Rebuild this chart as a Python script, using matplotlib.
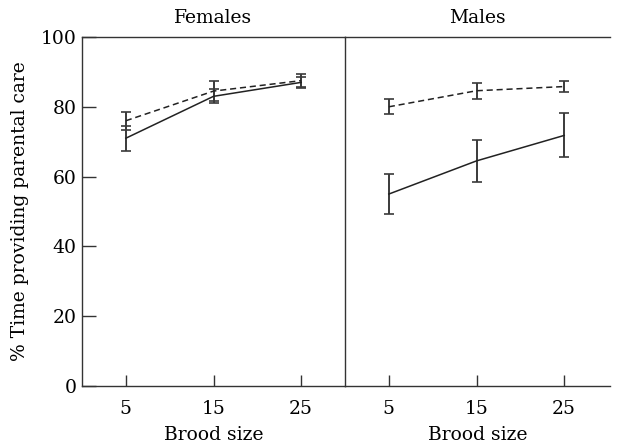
import matplotlib
matplotlib.use("Agg")
import matplotlib.pyplot as plt

brood = [5, 15, 25]
fem_solid = [71.0, 83.0, 87.0]
fem_solid_err = [3.6, 2.0, 1.5]
fem_dash = [76.0, 84.5, 87.5]
fem_dash_err = [2.6, 2.8, 1.8]
male_solid = [55.0, 64.5, 71.8]
male_solid_err = [5.7, 6.0, 6.3]
male_dash = [80.0, 84.6, 85.8]
male_dash_err = [2.1, 2.3, 1.7]
yticks = [0, 20, 40, 60, 80, 100]
titles = ["Females", "Males"]

plt.rcParams['font.family'] = ['DejaVu Serif']
fs = 13.5
fig = plt.figure(figsize=(6.22, 4.47), dpi=100)
W, H = 622, 447
x0, xm, x1 = 82, 345, 610
ytop, ybot = 37, 386
axL = fig.add_axes([x0 / W, 1 - ybot / H, (xm - x0) / W, (ybot - ytop) / H])
axR = fig.add_axes([xm / W, 1 - ybot / H, (x1 - xm) / W, (ybot - ytop) / H])

ink = '#222222'
ebc = '#3a3a3a'
for ax, (s, se, d, de), title in zip(
        [axL, axR],
        [(fem_solid, fem_solid_err, fem_dash, fem_dash_err),
         (male_solid, male_solid_err, male_dash, male_dash_err)],
        titles):
    ax.errorbar(brood, d, yerr=de, color=ink, ecolor=ebc, lw=1.1, ls=(0, (4, 2.5)),
                capsize=3.5, capthick=1.2, elinewidth=1.4)
    ax.errorbar(brood, s, yerr=se, color=ink, ecolor=ebc, lw=1.1, ls='-',
                capsize=3.5, capthick=1.2, elinewidth=1.4)
    ax.set_xlim(0, 30)
    ax.set_ylim(0, 100)
    ax.set_xticks(brood)
    ax.set_xticklabels([str(b) for b in brood], fontsize=fs)
    ax.set_xlabel("Brood size", fontsize=fs, labelpad=6)
    ax.set_title(title, fontsize=fs, pad=10)
    for sp in ax.spines.values():
        sp.set_color('#333333')
        sp.set_linewidth(1.0)
    ax.tick_params(axis='x', direction='in', length=8, width=1.0, color='#333333', pad=10)

axL.set_yticks(yticks)
axL.set_yticklabels([str(v) for v in yticks], fontsize=fs)
axL.tick_params(axis='y', direction='in', length=10, width=1.0, color='#333333', pad=4)
axL.set_ylabel("% Time providing parental care", fontsize=fs, labelpad=8)
axR.set_xlim(0, 30 * (x1 - xm) / (xm - x0))
axR.set_yticks([])
axR.spines['right'].set_visible(False)
axL.spines['right'].set_visible(False)

fig.savefig("out.png", dpi=100)
